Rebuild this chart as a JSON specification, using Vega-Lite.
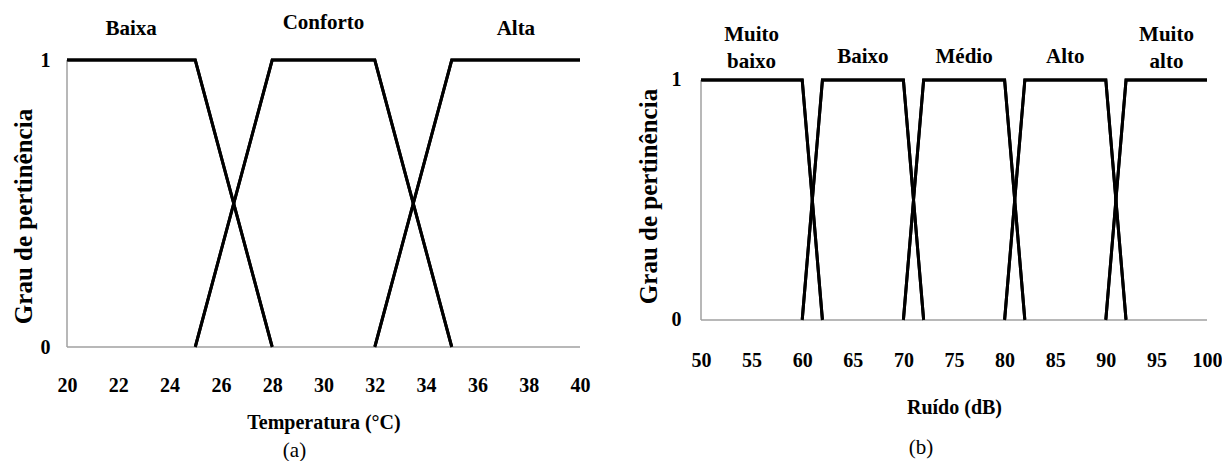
{
  "$schema": "https://vega.github.io/schema/vega-lite/v6.json",
  "background": "white",
  "padding": {"left": 11, "top": 12, "right": 0, "bottom": 0},
  "bounds": "flush",
  "spacing": 121,
  "config": {
    "view": {"stroke": null},
    "font": "Liberation Serif",
    "axis": {
      "grid": false, "domain": false, "ticks": false, "tickSize": 0,
      "labelFont": "Liberation Serif", "labelFontWeight": "bold", "labelFontSize": 20, "labelColor": "black",
      "titleFont": "Liberation Serif", "titleFontWeight": "bold", "titleFontSize": 20, "titleColor": "black",
      "labelFlush": false, "labelOverlap": false
    }
  },
  "datasets": {
    "temperatura": [
      {"set": "Baixa", "temp": 20, "mu": 1}, {"set": "Baixa", "temp": 25, "mu": 1}, {"set": "Baixa", "temp": 28, "mu": 0},
      {"set": "Conforto", "temp": 25, "mu": 0}, {"set": "Conforto", "temp": 28, "mu": 1}, {"set": "Conforto", "temp": 32, "mu": 1}, {"set": "Conforto", "temp": 35, "mu": 0},
      {"set": "Alta", "temp": 32, "mu": 0}, {"set": "Alta", "temp": 35, "mu": 1}, {"set": "Alta", "temp": 40, "mu": 1}
    ],
    "ruido": [
      {"set": "Muito baixo", "db": 50, "mu": 1}, {"set": "Muito baixo", "db": 60, "mu": 1}, {"set": "Muito baixo", "db": 62, "mu": 0},
      {"set": "Baixo", "db": 60, "mu": 0}, {"set": "Baixo", "db": 62, "mu": 1}, {"set": "Baixo", "db": 70, "mu": 1}, {"set": "Baixo", "db": 72, "mu": 0},
      {"set": "Médio", "db": 70, "mu": 0}, {"set": "Médio", "db": 72, "mu": 1}, {"set": "Médio", "db": 80, "mu": 1}, {"set": "Médio", "db": 82, "mu": 0},
      {"set": "Alto", "db": 80, "mu": 0}, {"set": "Alto", "db": 82, "mu": 1}, {"set": "Alto", "db": 90, "mu": 1}, {"set": "Alto", "db": 92, "mu": 0},
      {"set": "Muito alto", "db": 90, "mu": 0}, {"set": "Muito alto", "db": 92, "mu": 1}, {"set": "Muito alto", "db": 100, "mu": 1}
    ]
  },
  "hconcat": [
    {
      "width": 513,
      "height": 287,
      "data": {"name": "temperatura"},
      "title": {"text": "(a)", "orient": "bottom", "anchor": "middle", "frame": "bounds", "offset": 8, "dx": -6, "fontSize": 21, "fontWeight": "normal", "font": "Liberation Serif", "color": "black"},
      "layer": [
        {
          "mark": {"type": "line", "color": "black", "strokeWidth": 3},
          "encoding": {
            "x": {"field": "temp", "type": "quantitative", "scale": {"domain": [20, 40], "nice": false, "zero": false},
                  "axis": {"values": [20, 22, 24, 26, 28, 30, 32, 34, 36, 38, 40], "title": "Temperatura (°C)", "labelPadding": 28, "titleY": 75, "titleBaseline": "middle"}},
            "y": {"field": "mu", "type": "quantitative", "scale": {"domain": [0, 1], "nice": false, "zero": false},
                  "axis": {"values": [0, 1], "format": "d", "title": "Grau de pertinência", "labelPadding": 17, "titleX": -44, "titleY": 156, "titleAngle": -90, "titleAlign": "center", "titleBaseline": "middle", "titleFontSize": 25}},
            "detail": {"field": "set"}
          }
        },
        {
          "data": {"values": [{}]},
          "mark": {"type": "rule", "color": "#a0a0a0", "strokeWidth": 1.5},
          "encoding": {"y": {"datum": 0}}
        },
        {
          "data": {"values": [{}]},
          "mark": {"type": "rule", "color": "#a0a0a0", "strokeWidth": 1.5},
          "encoding": {"x": {"datum": 20}, "y": {"datum": 0}, "y2": {"datum": 1}}
        },
        {
          "mark": {"type": "line", "color": "black", "strokeWidth": 3},
          "encoding": {"x": {"field": "temp", "type": "quantitative"}, "y": {"field": "mu", "type": "quantitative"}, "detail": {"field": "set"}}
        },
        {
          "transform": [{"filter": "datum.mu == 1 && datum.set != 'Conforto'"}],
          "mark": {"type": "text", "font": "Liberation Serif", "fontWeight": "bold", "fontSize": 21, "baseline": "alphabetic", "align": "center", "color": "black"},
          "encoding": {"x": {"field": "temp", "aggregate": "mean", "type": "quantitative"}, "y": {"datum": 1.087}, "text": {"field": "set"}}
        },
        {
          "transform": [{"filter": "datum.mu == 1 && datum.set == 'Conforto'"}],
          "mark": {"type": "text", "font": "Liberation Serif", "fontWeight": "bold", "fontSize": 21, "baseline": "alphabetic", "align": "center", "color": "black"},
          "encoding": {"x": {"field": "temp", "aggregate": "mean", "type": "quantitative"}, "y": {"datum": 1.108}, "text": {"field": "set"}}
        }
      ]
    },
    {
      "width": 506,
      "height": 287,
      "data": {"name": "ruido"},
      "title": {"text": "(b)", "orient": "bottom", "anchor": "middle", "frame": "bounds", "offset": 20, "dx": -8, "fontSize": 21, "fontWeight": "normal", "font": "Liberation Serif", "color": "black"},
      "layer": [
        {
          "mark": {"type": "line", "color": "black", "strokeWidth": 3},
          "encoding": {
            "x": {"field": "db", "type": "quantitative", "scale": {"domain": [50, 100], "nice": false, "zero": false},
                  "axis": {"values": [50, 55, 60, 65, 70, 75, 80, 85, 90, 95, 100], "title": "Ruído (dB)", "labelPadding": 3, "titleY": 60, "titleBaseline": "middle"}},
            "y": {"field": "mu", "type": "quantitative", "scale": {"domain": [-0.1125, 1.0833], "nice": false, "zero": false},
                  "axis": {"values": [0, 1], "format": "d", "title": "Grau de pertinência", "labelPadding": 20, "titleX": -53, "titleY": 136, "titleAngle": -90, "titleAlign": "center", "titleBaseline": "middle", "titleFontSize": 25}},
            "detail": {"field": "set"}
          }
        },
        {
          "data": {"values": [{}]},
          "mark": {"type": "rule", "color": "#a0a0a0", "strokeWidth": 1.5},
          "encoding": {"y": {"datum": 0}}
        },
        {
          "data": {"values": [{}]},
          "mark": {"type": "rule", "color": "#a0a0a0", "strokeWidth": 1.5},
          "encoding": {"x": {"datum": 50}, "y": {"datum": 0}, "y2": {"datum": 1}}
        },
        {
          "mark": {"type": "line", "color": "black", "strokeWidth": 3},
          "encoding": {"x": {"field": "db", "type": "quantitative"}, "y": {"field": "mu", "type": "quantitative"}, "detail": {"field": "set"}}
        },
        {
          "transform": [{"filter": "datum.mu == 1 && indexof(datum.set, ' ') < 0"}],
          "mark": {"type": "text", "font": "Liberation Serif", "fontWeight": "bold", "fontSize": 21, "baseline": "alphabetic", "align": "center", "color": "black"},
          "encoding": {"x": {"field": "db", "aggregate": "mean", "type": "quantitative"}, "y": {"datum": 1.0708}, "text": {"field": "set"}}
        },
        {
          "transform": [{"filter": "datum.mu == 1 && indexof(datum.set, ' ') >= 0"}],
          "mark": {"type": "text", "font": "Liberation Serif", "fontWeight": "bold", "fontSize": 21, "baseline": "alphabetic", "align": "center", "color": "black", "lineBreak": " ", "lineHeight": 27},
          "encoding": {"x": {"field": "db", "aggregate": "mean", "type": "quantitative"}, "y": {"datum": 1.1625}, "text": {"field": "set"}}
        }
      ]
    }
  ]
}
